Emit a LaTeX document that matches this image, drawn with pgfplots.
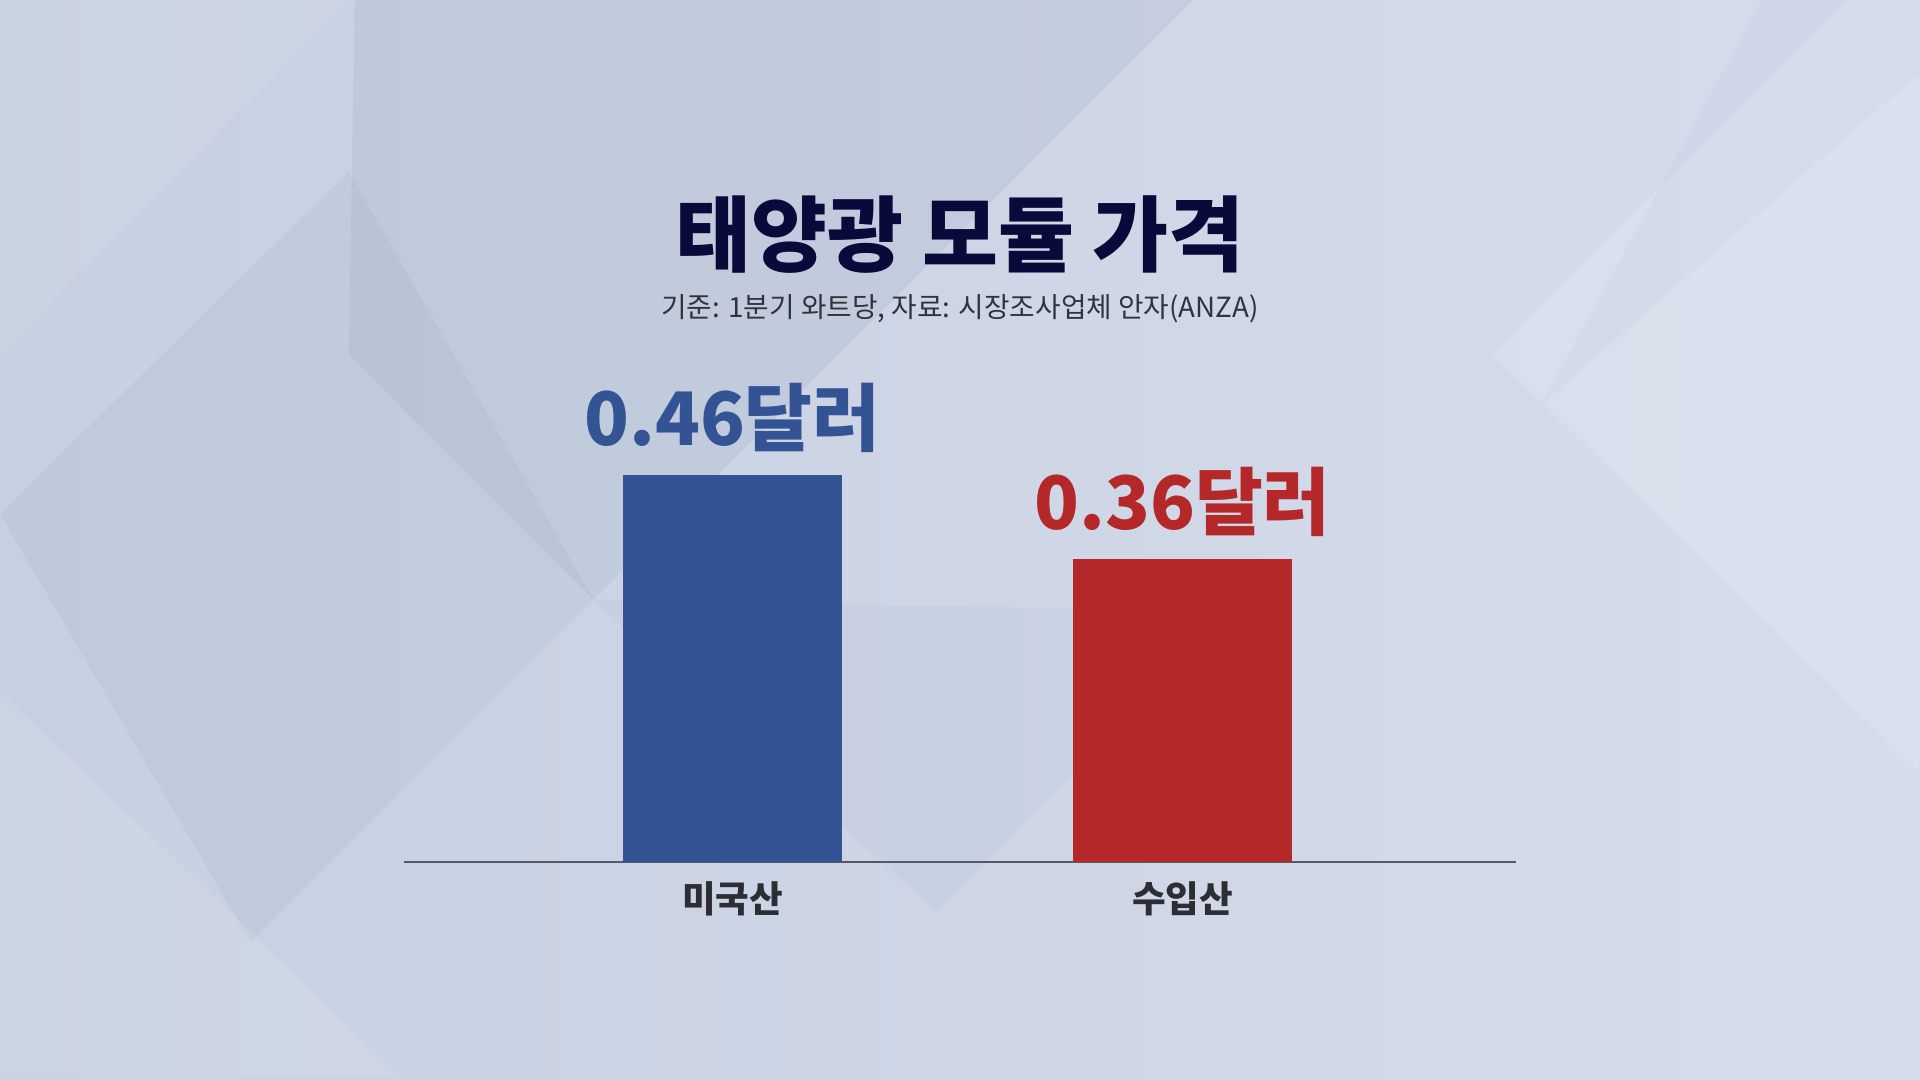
\documentclass[border=0pt]{standalone}
\usepackage{pgfplots}
\pgfplotsset{compat=1.18}
\usepackage{fontspec}
\setmainfont{Noto Sans CJK KR}
\newfontfamily\kr{Noto Sans CJK KR}
\newfontfamily\krblack{Noto Sans CJK KR Black}

\definecolor{barblue}{RGB}{52,83,148}
\definecolor{barred}{RGB}{181,40,41}
\definecolor{titlenavy}{RGB}{10,10,58}
\definecolor{subgray}{RGB}{50,51,58}
\definecolor{labelgray}{RGB}{45,46,52}
\definecolor{axisgray}{RGB}{85,90,100}
\definecolor{bgleft}{RGB}{198,208,224}
\definecolor{bgright}{RGB}{214,220,236}
\definecolor{bgdark}{RGB}{120,138,168}

\begin{document}
\begin{tikzpicture}
\useasboundingbox (0,0) rectangle (19.2,10.8);
\shade[left color=bgleft, right color=bgright] (0,0) rectangle (19.2,10.8);

% background facets, in the coordinates of the 1568x882 view
\begin{scope}[x=0.012245cm, y=-0.012245cm, shift={(0,10.8cm)}]
  \clip (0,0) rectangle (1568,882);
  \fill[bgdark, opacity=0.12] (290,0) -- (975,0) -- (485,490) -- (285,290) -- cycle;
  \fill[bgdark, opacity=0.09] (0,420) -- (285,140) -- (485,490) -- (205,770) -- cycle;
  \fill[bgdark, opacity=0.06] (485,490) -- (765,745) -- (1010,500) -- cycle;
  \fill[white, opacity=0.14] (1220,290) -- (1568,-60) -- (1568,630) -- cycle;
  \fill[white, opacity=0.10] (0,565) -- (330,882) -- (0,882) -- cycle;
  \fill[white, opacity=0.08] (0,0) -- (285,0) -- (0,290) -- cycle;
  \fill[bgdark, opacity=0.05] (1440,0) -- (1568,0) -- (1568,60) -- (1260,330) -- cycle;
\end{scope}

\node[anchor=base, inner sep=0pt, text=titlenavy] at (9.6,8.14)
  {\krblack\fontsize{23.5}{28}\selectfont 태양광 모듈 가격};
\node[anchor=base, inner sep=0pt, text=subgray] at (9.6,7.62)
  {\kr\fontsize{7.9}{9.5}\selectfont 기준: 1분기 와트당, 자료: 시장조사업체 안자(ANZA)};

\begin{axis}[
    at={(4.04cm,2.18cm)}, anchor=south west,
    scale only axis,
    width=11.12cm, height=5cm,
    xmin=-0.73, xmax=1.741,
    ymin=0, ymax=0.595,
    axis x line=bottom, axis y line=none,
    x axis line style={-, draw=axisgray, line width=0.85pt},
    xtick={0,1},
    xticklabels={미국산,수입산},
    major tick length=0pt,
    xticklabel style={anchor=base, yshift=-0.51cm, text=labelgray,
        font=\kr\bfseries\fontsize{10.4}{12}\selectfont},
    ytick=\empty,
    ybar,
    bar width=2.19cm,
    point meta=explicit symbolic,
    nodes near coords,
    every node near coord/.append style={anchor=base, inner sep=0pt,
        yshift=0.3cm, font=\krblack\fontsize{21}{25}\selectfont},
]
\addplot[bar shift=0pt, fill=barblue, draw=none,
    every node near coord/.append style={text=barblue}]
    coordinates {(0,0.46) [0.46달러]};
\addplot[bar shift=0pt, fill=barred, draw=none,
    every node near coord/.append style={text=barred}]
    coordinates {(1,0.36) [0.36달러]};
\end{axis}
\end{tikzpicture}
\end{document}
